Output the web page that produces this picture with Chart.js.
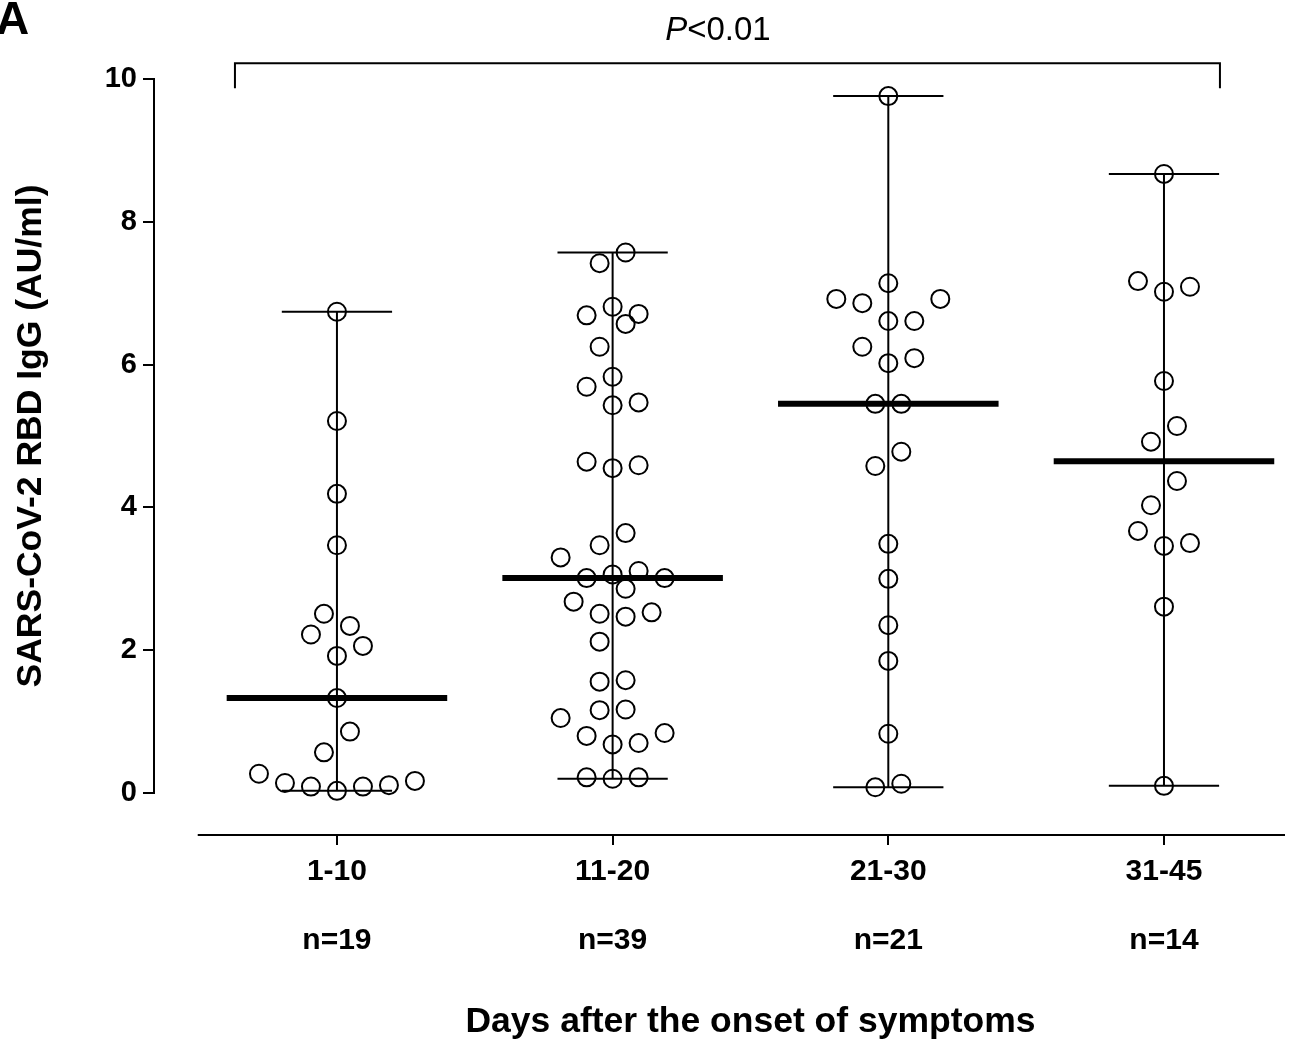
<!DOCTYPE html>
<html>
<head>
<meta charset="utf-8">
<script src="https://cdn.jsdelivr.net/npm/chart.js@4"></script>
<style>
html,body{margin:0;padding:0;background:#fff;}
#wrap{width:1298px;height:1042px;position:relative;}
</style>
</head>
<body>
<div id="wrap"><canvas id="c" width="1298" height="1042"></canvas></div>
<script>
// ---------------- data ----------------
const categories = ['1-10', '11-20', '21-30', '31-45'];
const group1 = [6.74, 5.21, 4.19, 3.47, 2.51, 2.34, 2.22, 2.06, 1.92, 1.33, 0.86, 0.57, 0.27, 0.14, 0.09, 0.03, 0.09, 0.11, 0.17];
const group2 = [7.57, 7.42, 6.81, 6.69, 6.71, 6.57, 6.25, 5.83, 5.69, 5.47, 5.43, 4.64, 4.55, 4.59, 3.64, 3.47, 3.30, 3.06, 3.01, 3.01, 3.11, 2.86, 2.53, 2.47, 2.51, 2.68, 2.12, 1.58, 1.56, 1.16, 1.17, 1.05, 0.84, 0.70, 0.68, 0.80, 0.22, 0.20, 0.22];
const group3 = [9.76, 7.14, 6.92, 6.86, 6.92, 6.61, 6.61, 6.25, 6.02, 6.09, 5.45, 5.45, 4.58, 4.78, 3.49, 3.00, 2.35, 1.85, 0.83, 0.08, 0.13];
const group4 = [8.67, 7.17, 7.02, 7.09, 5.77, 5.14, 4.92, 4.37, 4.03, 3.67, 3.46, 3.50, 2.61, 0.10];
const yTicks = [0, 2, 4, 6, 8, 10];
const yTitle = 'SARS-CoV-2 RBD IgG (AU/ml)';
const xTitle = 'Days after the onset of symptoms';
const pItalic = 'P';
const pRest = '<0.01';
const panelLabel = 'A';

// ---------------- layout / style constants ----------------
const FONT = "'Liberation Sans', Arial, sans-serif";
const DOT_STEP = 0.0943;     // horizontal spacing between neighbouring dots (x-units)
const DOT_STEP_PX = 26;      // same spacing in pixels (for overlap test)
const Y_PX_PER_UNIT = 71.4;  // vertical pixels per y unit (for overlap test)
const DOT_CLEAR_PX = 19;     // minimum centre distance between dots
const ROW_SPAN = 0.385;      // values closer than this share one dot row
const CAP_HALF = 0.2;
const MED_HALF = 0.4;
const X_MIN = -0.660, X_MAX = 3.439;
const Y_MIN = -0.588, Y_MAX = 10.588;
const X_AXIS_START = -0.505;
const BRACKET = {x0: -0.370, x1: 3.203, top: 10.22, tip: 9.87, textX: 1.382};

const groups = [group1, group2, group3, group4];

// Prism-like row layout: dots in the same row spread symmetrically around the column
function rowSlots(values) {
  const idx = values.map((v, i) => i).sort((a, b) => values[a] - values[b]);
  const slots = new Array(values.length).fill(0);
  const placed = [];
  const collides = (s, v) => placed.some(p => {
    const dx = (p.s - s) * DOT_STEP_PX, dy = (p.v - v) * Y_PX_PER_UNIT;
    return Math.sqrt(dx * dx + dy * dy) < DOT_CLEAR_PX;
  });
  let i = 0;
  while (i < idx.length) {
    const start = values[idx[i]];
    let j = i;
    while (j < idx.length && values[idx[j]] - start < ROW_SPAN) j++;
    const row = idx.slice(i, j);
    const n = row.length;
    const S = row.map((k, r) => {
      if (n % 2 === 1) return r === 0 ? 0 : (r % 2 === 1 ? (r + 1) / 2 : -r / 2);
      const m = Math.floor(r / 2) + 0.5;
      return r % 2 === 0 ? -m : m;
    });
    const used = new Set();
    row.forEach((k, r) => {
      const v = values[k];
      const pref = S[r];
      const cands = S.filter(s => !used.has(s))
        .sort((a, b) => Math.abs(a - pref) - Math.abs(b - pref));
      let chosen = cands.find(s => !collides(s, v));
      if (chosen === undefined) chosen = cands[0];
      used.add(chosen);
      placed.push({s: chosen, v});
      slots[k] = chosen;
    });
    i = j;
  }
  return slots;
}

function lineSet(points, width) {
  return {
    type: 'scatter', showLine: true, data: points,
    borderColor: '#000', borderWidth: width, pointRadius: 0,
    borderCapStyle: 'butt', fill: false, order: 2
  };
}

const datasets = [];
groups.forEach((vals, i) => {
  const s = [...vals].sort((a, b) => a - b);
  const min = s[0], max = s[s.length - 1];
  const n = s.length;
  const med = n % 2 ? s[(n - 1) / 2] : (s[n / 2 - 1] + s[n / 2]) / 2;
  datasets.push(lineSet([{x: i, y: min}, {x: i, y: max}], 2));
  datasets.push(lineSet([{x: i - CAP_HALF, y: max}, {x: i + CAP_HALF, y: max}], 2));
  datasets.push(lineSet([{x: i - CAP_HALF, y: min}, {x: i + CAP_HALF, y: min}], 2));
  datasets.push(lineSet([{x: i - MED_HALF, y: med}, {x: i + MED_HALF, y: med}], 6));
  const slots = rowSlots(vals);
  datasets.push({
    type: 'scatter',
    data: vals.map((v, k) => ({x: i + slots[k] * DOT_STEP, y: v})),
    pointRadius: 9, pointBorderWidth: 2,
    pointBorderColor: '#000', pointBackgroundColor: 'rgba(0,0,0,0)',
    order: 1
  });
});

const decor = {
  id: 'decor',
  afterDraw(chart) {
    const ctx = chart.ctx;
    const xs = chart.scales.x, ys = chart.scales.y;
    ctx.save();
    ctx.strokeStyle = '#000';
    ctx.fillStyle = '#000';
    ctx.lineWidth = 2;
    ctx.lineCap = 'butt';
    // y axis line (0..10)
    const ax = Math.round(chart.chartArea.left) - 1;
    ctx.beginPath();
    ctx.moveTo(ax, ys.getPixelForValue(yTicks[0]) + 1);
    ctx.lineTo(ax, ys.getPixelForValue(yTicks[yTicks.length - 1]) - 1);
    ctx.stroke();
    // x axis line
    const ay = Math.round(chart.chartArea.bottom);
    ctx.beginPath();
    ctx.moveTo(xs.getPixelForValue(X_AXIS_START), ay);
    ctx.lineTo(chart.chartArea.right, ay);
    ctx.stroke();
    // x axis title, centred under the categories
    ctx.font = 'bold 35.5px ' + FONT;
    ctx.textAlign = 'center';
    ctx.textBaseline = 'middle';
    ctx.fillText(xTitle, xs.getPixelForValue((categories.length - 1) / 2), 1022);
    // significance bracket
    const bx0 = xs.getPixelForValue(BRACKET.x0), bx1 = xs.getPixelForValue(BRACKET.x1);
    const bt = ys.getPixelForValue(BRACKET.top), bb = ys.getPixelForValue(BRACKET.tip);
    ctx.beginPath();
    ctx.moveTo(bx0, bb); ctx.lineTo(bx0, bt); ctx.lineTo(bx1, bt); ctx.lineTo(bx1, bb);
    ctx.stroke();
    // P value text
    const fontSize = 33;
    ctx.font = 'italic ' + fontSize + 'px ' + FONT;
    const w1 = ctx.measureText(pItalic).width;
    ctx.font = fontSize + 'px ' + FONT;
    const w2 = ctx.measureText(pRest).width;
    const cx = xs.getPixelForValue(BRACKET.textX);
    const startX = cx - (w1 + w2) / 2;
    const baseY = 40;
    ctx.textBaseline = 'alphabetic';
    ctx.textAlign = 'left';
    ctx.font = 'italic ' + fontSize + 'px ' + FONT;
    ctx.fillText(pItalic, startX, baseY);
    ctx.font = fontSize + 'px ' + FONT;
    ctx.fillText(pRest, startX + w1, baseY);
    // panel label
    ctx.font = 'bold 46px ' + FONT;
    ctx.fillText(panelLabel, -4, 34);
    ctx.restore();
  }
};

new Chart(document.getElementById('c'), {
  type: 'scatter',
  data: {datasets},
  options: {
    responsive: false,
    devicePixelRatio: 1,
    animation: false,
    events: [],
    layout: {padding: {left: 0, top: 37, right: 13, bottom: 0}},
    plugins: {legend: {display: false}, tooltip: {enabled: false}},
    scales: {
      x: {
        type: 'linear', position: 'bottom',
        min: X_MIN, max: X_MAX,
        afterBuildTicks: (scale) => { scale.ticks = categories.map((c, i) => ({value: i})); },
        afterFit: (scale) => { scale.height = 207; },
        ticks: {
          autoSkip: false, maxRotation: 0, minRotation: 0,
          padding: -7.5, color: '#000',
          font: {family: FONT, size: 30, weight: 'bold', lineHeight: '69px'},
          callback: (value, index) => [categories[index], 'n=' + groups[index].length]
        },
        grid: {drawOnChartArea: false, drawTicks: true, tickLength: 10, color: '#000', lineWidth: 2},
        border: {display: false},
        title: {display: false}
      },
      y: {
        type: 'linear', position: 'left',
        min: Y_MIN, max: Y_MAX,
        afterBuildTicks: (scale) => { scale.ticks = yTicks.map(v => ({value: v})); },
        afterFit: (scale) => { scale.width = 155; },
        ticks: {
          padding: 6, color: '#000',
          font: {family: FONT, size: 29, weight: 'bold'},
          callback: (value) => String(value)
        },
        grid: {drawOnChartArea: false, drawTicks: true, tickLength: 12, color: '#000', lineWidth: 2},
        border: {display: false},
        title: {
          display: true, text: yTitle, color: '#000',
          font: {family: FONT, size: 35.5, weight: 'bold', lineHeight: 1.2},
          padding: {top: 10, bottom: 0}
        }
      }
    }
  },
  plugins: [decor]
});
</script>
</body>
</html>
